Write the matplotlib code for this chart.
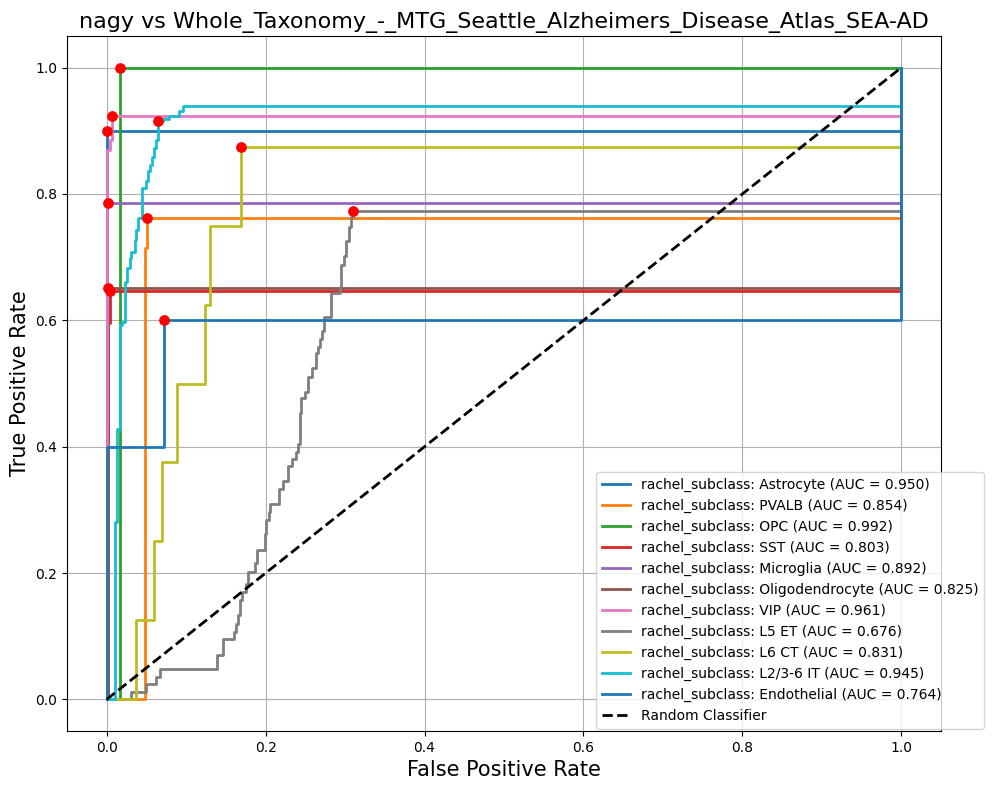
import matplotlib
matplotlib.use("Agg")
import matplotlib.pyplot as plt

title = "nagy vs Whole_Taxonomy_-_MTG_Seattle_Alzheimers_Disease_Atlas_SEA-AD"

class_names = ["Astrocyte", "PVALB", "OPC", "SST", "Microglia", "Oligodendrocyte",
               "VIP", "L5 ET", "L6 CT", "L2/3-6 IT", "Endothelial"]
auc_values = [0.950, 0.854, 0.992, 0.803, 0.892, 0.825, 0.961, 0.676, 0.831, 0.945, 0.764]

# ROC corner points, drawn as post-steps
fpr_astrocyte = [0, 0, 1]
tpr_astrocyte = [0, 0.900, 1]

fpr_pvalb = [0, 0.048, 0.0508, 1]
tpr_pvalb = [0, 0.715, 0.762, 1]

fpr_opc = [0, 0.0167, 1]
tpr_opc = [0, 1.0, 1]

fpr_sst = [0, 0.002, 0.0046, 1]
tpr_sst = [0, 0.596, 0.646, 1]

fpr_microglia = [0, 0, 1]
tpr_microglia = [0, 0.786, 1]

fpr_oligo = [0, 0.002, 1]
tpr_oligo = [0, 0.651, 1]

fpr_vip = [0, 0, 0.0038, 0.007, 1]
tpr_vip = [0, 0.870, 0.886, 0.924, 1]

fpr_l5et = [0, 0.030, 0.049, 0.0625, 0.0667, 0.1388, 0.1463, 0.1597, 0.1623, 0.165,
            0.168, 0.170, 0.175, 0.1776, 0.187, 0.189, 0.1987, 0.201, 0.204, 0.206,
            0.217, 0.222, 0.228, 0.233, 0.238, 0.2407, 0.2428, 0.245, 0.249, 0.253,
            0.258, 0.263, 0.266, 0.268, 0.271, 0.274, 0.2826, 0.293, 0.2952, 0.298,
            0.3006, 0.3048, 0.308, 0.310, 1]
tpr_l5et = [0, 0.011, 0.024, 0.035, 0.048, 0.071, 0.095, 0.107, 0.120, 0.133,
            0.157, 0.170, 0.182, 0.202, 0.216, 0.237, 0.262, 0.284, 0.297, 0.309,
            0.333, 0.345, 0.369, 0.380, 0.392, 0.404, 0.453, 0.477, 0.487, 0.511,
            0.524, 0.548, 0.558, 0.571, 0.583, 0.606, 0.643, 0.652, 0.688, 0.702,
            0.726, 0.748, 0.763, 0.773, 1]

fpr_l6ct = [0, 0.037, 0.0595, 0.070, 0.0885, 0.124, 0.130, 0.1686, 1]
tpr_l6ct = [0, 0.125, 0.250, 0.375, 0.500, 0.625, 0.750, 0.875, 1]

fpr_l236it = [0, 0.010, 0.013, 0.017, 0.0197, 0.0226, 0.026, 0.029, 0.031, 0.035,
              0.0372, 0.039, 0.045, 0.049, 0.052, 0.055, 0.057, 0.0595, 0.0625,
              0.0646, 0.071, 0.079, 0.091, 0.096, 1]
tpr_l236it = [0, 0.281, 0.428, 0.593, 0.597, 0.661, 0.683, 0.699, 0.708, 0.727,
              0.743, 0.762, 0.809, 0.820, 0.836, 0.846, 0.859, 0.872, 0.886,
              0.915, 0.918, 0.924, 0.931, 0.940, 1]

fpr_endo = [0, 0, 0.072, 1]
tpr_endo = [0, 0.400, 0.600, 1]

# optimal threshold points (red dots)
best_fpr = [0, 0.0508, 0.0167, 0.004, 0.001, 0.0017, 0.007, 0.310, 0.1686, 0.0646, 0.072]
best_tpr = [0.900, 0.762, 1.0, 0.646, 0.786, 0.651, 0.924, 0.773, 0.875, 0.915, 0.600]

fprs = [fpr_astrocyte, fpr_pvalb, fpr_opc, fpr_sst, fpr_microglia, fpr_oligo,
        fpr_vip, fpr_l5et, fpr_l6ct, fpr_l236it, fpr_endo]
tprs = [tpr_astrocyte, tpr_pvalb, tpr_opc, tpr_sst, tpr_microglia, tpr_oligo,
        tpr_vip, tpr_l5et, tpr_l6ct, tpr_l236it, tpr_endo]

fig = plt.figure(figsize=(9.94, 7.9), dpi=100)
ax = fig.add_axes([0.0674, 0.0747, 0.8793, 0.8797])

for i, name in enumerate(class_names):
    color = "C%d" % (i % 10)
    ax.plot(fprs[i], tprs[i], drawstyle="steps-post", color=color, lw=2,
            label="rachel_subclass: %s (AUC = %.3f)" % (name, auc_values[i]))
    ax.scatter(best_fpr[i], best_tpr[i], color="red", s=45, zorder=3)

ax.plot([0, 1], [0, 1], "k--", lw=2, label="Random Classifier")

ax.set_xlabel("False Positive Rate", fontsize=15)
ax.set_ylabel("True Positive Rate", fontsize=15)
ax.set_title(title, fontsize=16)
ax.grid(True)
ax.legend(loc="lower right", bbox_to_anchor=(1.057, -0.007))

fig.savefig("out.png", dpi=100)
